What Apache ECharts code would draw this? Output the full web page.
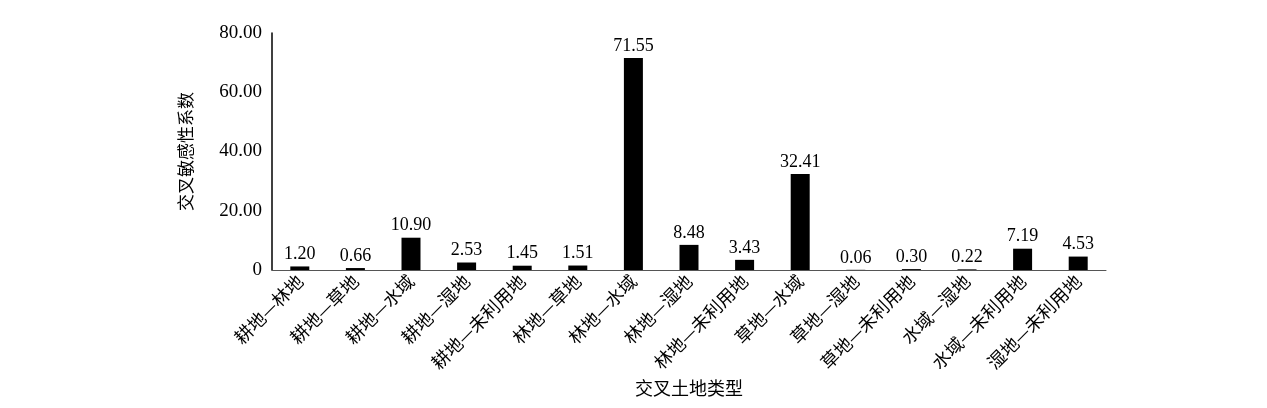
<!DOCTYPE html>
<html><head><meta charset="utf-8">
<script src="https://cdn.jsdelivr.net/npm/echarts@6/dist/echarts.min.js"></script>
<style>html,body{margin:0;padding:0;background:#fff}#c{width:1267px;height:408px}</style>
</head><body><div id="c"></div>
<script>
const categories = ['耕地—林地','耕地—草地','耕地—水域','耕地—湿地','耕地—未利用地','林地—草地','林地—水域','林地—湿地','林地—未利用地','草地—水域','草地—湿地','草地—未利用地','水域—湿地','水域—未利用地','湿地—未利用地'];
const values = [1.20,0.66,10.90,2.53,1.45,1.51,71.55,8.48,3.43,32.41,0.06,0.30,0.22,7.19,4.53];
const yTicks = [0,20,40,60,80];
const FONT = '"Liberation Serif","Noto Sans CJK SC",serif';
const CJK = '"Noto Sans CJK SC","Liberation Serif",serif';
const chart = echarts.init(document.getElementById('c'));
chart.setOption({
  animation:false,
  grid:{left:272,right:161,top:33,bottom:138,containLabel:false},
  xAxis:{type:'category',data:categories,
    name:'交叉土地类型',nameLocation:'middle',nameGap:106,
    nameTextStyle:{fontFamily:CJK,fontSize:18,color:'#000'},
    axisLine:{lineStyle:{color:'#555',width:1}},axisTick:{show:false},
    axisLabel:{rotate:45,interval:0,fontFamily:CJK,fontSize:18,color:'#000',margin:8}},
  yAxis:{type:'value',min:yTicks[0],max:yTicks[yTicks.length-1],interval:yTicks[1]-yTicks[0],
    name:'交叉敏感性系数',nameLocation:'middle',nameGap:78,nameRotate:90,
    nameTextStyle:{fontFamily:CJK,fontSize:17,color:'#000'},
    axisLine:{show:true,lineStyle:{color:'#000',width:1.5}},axisTick:{show:false},splitLine:{show:false},
    axisLabel:{fontFamily:FONT,fontSize:19,color:'#000',margin:10,
      formatter:v=>v===0?'0':v.toFixed(2)}},
  series:[{type:'bar',data:values,barWidth:19,itemStyle:{color:'#000'},
    label:{show:true,position:'top',distance:3,fontFamily:FONT,fontSize:18,color:'#000',
      formatter:p=>p.value.toFixed(2)}}]
});
</script></body></html>
